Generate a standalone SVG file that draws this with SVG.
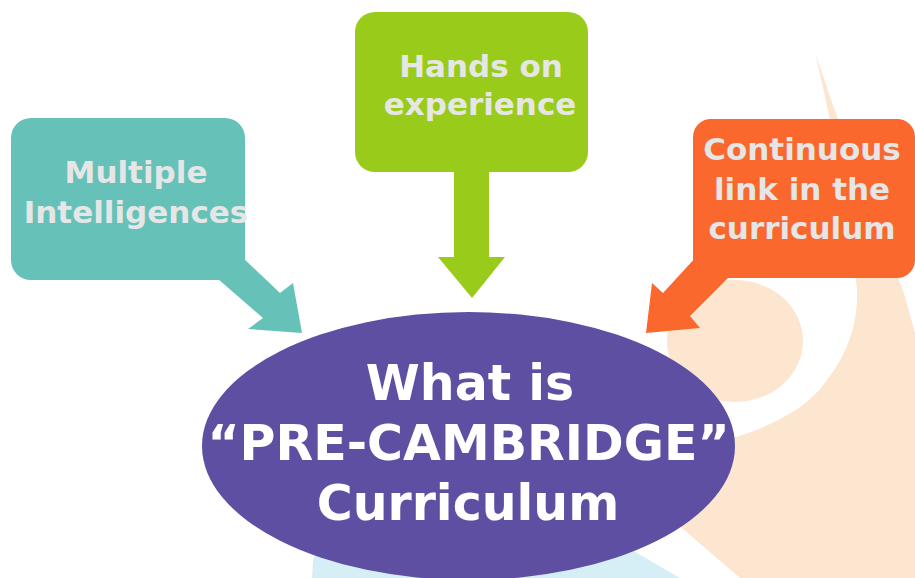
<svg xmlns="http://www.w3.org/2000/svg" width="915" height="578" viewBox="0 0 915 578">
<style>
.lbl{font-family:"DejaVu Sans","Verdana",sans-serif;font-weight:bold;font-size:31px;fill:#E6E6E6;text-anchor:middle}
.main{font-family:"DejaVu Sans","Verdana",sans-serif;font-weight:bold;font-size:49px;fill:#FFFFFF;text-anchor:middle}
.teal{fill:#66C2B8}
.green{fill:#99CC1A}
.orange{fill:#FA682D}
</style>
<rect width="915" height="578" fill="#FFFFFF"/>
<g id="background">
<path d="M815 52 Q852 165 903 290 L915 333 L915 578 L740 578 L682 528 L640 490 L700 447 C740 437 800 420 827 380 C850 350 858 320 857 290 Q845 180 815 52 Z" fill="#FDE6CF"/>
<ellipse cx="735" cy="341" rx="68" ry="61" fill="#FDE6CF"/>
<path d="M312 578 L313 560 L330 520 L600 520 L637 553 L680 578 Z" fill="#D6EEF5"/>
</g>
<g id="connectors">
<polygon class="teal" points="240,255 280,293 293,283 302,333 248,329 263,318 218,279"/>
<polygon class="green" points="454,168 489,168 489,257 505,257 472,298 438,257 454,257"/>
<polygon class="orange" points="697,256 663,293 652,283 646,333 700,328 690,316 730,276"/>
</g>
<g id="node-multiple">
<rect class="teal" x="11" y="118" width="234" height="162" rx="20"/>
<text class="lbl" x="136" y="183">Multiple</text>
<text class="lbl" x="136" y="223">Intelligences</text>
</g>
<g id="node-hands">
<rect class="green" x="355" y="12" width="233" height="160" rx="20"/>
<text class="lbl" x="481" y="77">Hands on</text>
<text class="lbl" x="480" y="115">experience</text>
</g>
<g id="node-continuous">
<rect class="orange" x="693" y="119" width="222" height="159" rx="18"/>
<text class="lbl" x="802" y="160">Continuous</text>
<text class="lbl" x="802" y="200">link in the</text>
<text class="lbl" x="802" y="239">curriculum</text>
</g>
<g id="node-center">
<ellipse cx="468.5" cy="446" rx="266.5" ry="134" fill="#5E4FA2"/>
<text class="main" x="470" y="400">What is</text>
<text class="main" x="468.5" y="460">“PRE-CAMBRIDGE”</text>
<text class="main" x="468" y="520">Curriculum</text>
</g>
</svg>
